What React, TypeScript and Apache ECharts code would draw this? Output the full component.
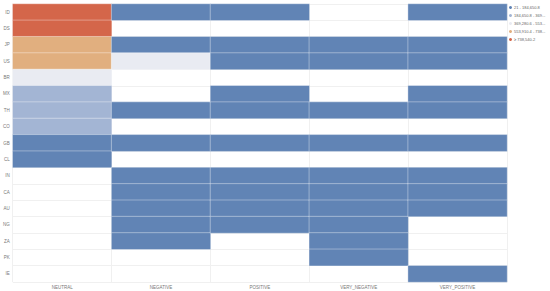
import React, { useEffect, useRef } from "react";
import * as echarts from "echarts";

const countries = ["ID", "DS", "JP", "US", "BR", "MX", "TH", "CO", "GB", "CL", "IN", "CA", "AU", "NG", "ZA", "PK", "IE"];
const sentiments = ["NEUTRAL", "NEGATIVE", "POSITIVE", "VERY_NEGATIVE", "VERY_POSITIVE"];

// values per sentiment column, in country order (null = no data)
const neutral = [905000, 812000, 660000, 612000, 430000, 262000, 248000, 236000, 96000, 58000, null, null, null, null, null, null, null];
const negative = [72000, null, 64000, 402000, null, null, 41000, null, 52000, null, 33000, 28000, 24000, 18000, 12000, null, null];
const positive = [86000, null, 92000, 118000, null, 44000, 61000, null, 70000, null, 38000, 30000, 26000, 15000, null, null, null];
const veryNegative = [null, null, 22000, 31000, null, null, 19000, null, 17000, null, 14000, 11000, 9000, 6000, 5000, 3000, null];
const veryPositive = [54000, null, 47000, 66000, null, 21000, 35000, null, 40000, null, 23000, 16000, 13000, null, null, null, 2500];

const pieceBreaks = [21, 184650.8, 369280.6, 553910.4, 738540.2];
const pieceLabels = ["21 - 184,650.8", "184,650.8 - 369...", "369,280.6 - 553...", "553,910.4 - 738...", "\u2265 738,540.2"];
const pieceColors = ["#6184b5", "#a3b5d4", "#e9ebf2", "#e1af7f", "#d4664a"];

export default function App() {
  const ref = useRef<HTMLDivElement>(null);
  useEffect(() => {
    if (!ref.current) return;
    const chart = echarts.init(ref.current, undefined, { renderer: "svg" });
    const columns = [neutral, negative, positive, veryNegative, veryPositive];
    const data: any[] = [];
    columns.forEach((col, xi) => {
      col.forEach((v, yi) => {
        if (v !== null) data.push([xi, yi, v]);
      });
    });
    const pieces = pieceBreaks.map((b, i) => {
      const p: any = { min: b, label: pieceLabels[i], color: pieceColors[i] };
      if (i < pieceBreaks.length - 1) p.max = pieceBreaks[i + 1];
      return p;
    });
    const font = "Liberation Sans";
    chart.setOption({
      animation: false,
      backgroundColor: "#ffffff",
      grid: { left: 11, right: 43, top: 4, bottom: 9, containLabel: false },
      xAxis: {
        type: "category",
        data: sentiments,
        axisLine: { show: false },
        axisTick: { show: false },
        axisLabel: { fontSize: 4.5, color: "#777", margin: 3, fontFamily: font },
        splitLine: { show: true, lineStyle: { color: "#f0f0f0", width: 1 } },
      },
      yAxis: {
        type: "category",
        data: countries,
        inverse: true,
        axisLine: { show: false },
        axisTick: { show: false },
        axisLabel: { fontSize: 4.5, color: "#777", margin: 3, fontFamily: font },
        splitLine: { show: true, lineStyle: { color: "#f0f0f0", width: 1 } },
      },
      visualMap: {
        type: "piecewise",
        pieces,
        orient: "vertical",
        inverse: true,
        align: "left",
        left: 509,
        top: 5.5,
        padding: 0,
        itemWidth: 3,
        itemHeight: 3,
        itemGap: 4,
        itemSymbol: "circle",
        textGap: 2,
        textStyle: { fontSize: 4, color: "#666", fontFamily: font },
        selectedMode: false,
      },
      series: [
        {
          type: "heatmap",
          data,
          itemStyle: { borderColor: "rgba(255,255,255,0.35)", borderWidth: 1 },
        },
      ],
    });
    return () => chart.dispose();
  }, []);
  return <div ref={ref} style={{ position: "fixed", left: 0, top: 0, width: 550, height: 291 }} />;
}
